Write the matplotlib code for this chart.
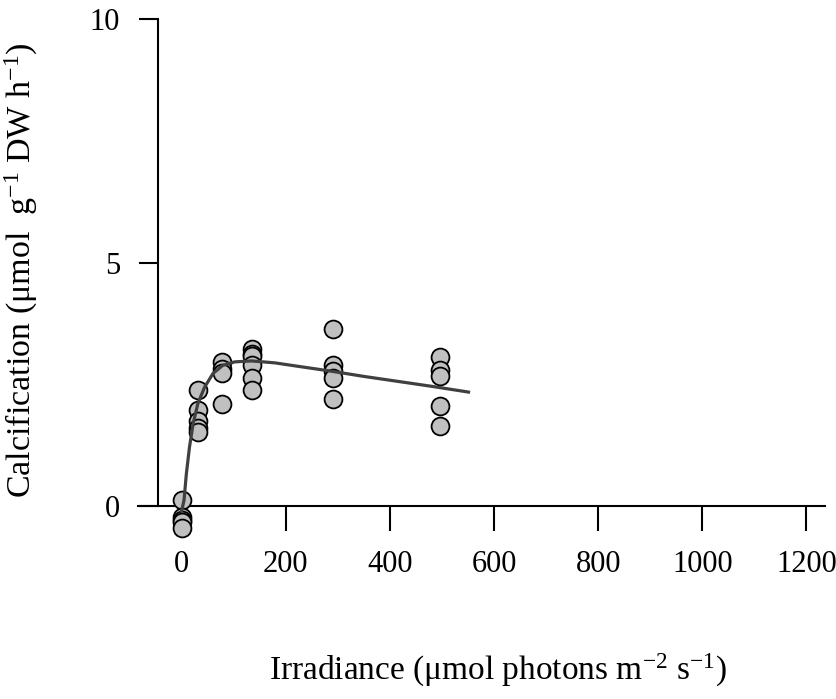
import numpy as np
import matplotlib
matplotlib.use("Agg")
import matplotlib.pyplot as plt

plt.rcParams['font.family'] = ['Liberation Serif', 'DejaVu Serif']
plt.rcParams['mathtext.fontset'] = 'custom'
plt.rcParams['mathtext.rm'] = 'Liberation Serif'
plt.rcParams['mathtext.it'] = 'Liberation Serif:italic'

# measured calcification at each irradiance level
irr = [0, 0, 0, 0, 0,
       31, 31, 31, 31, 31,
       77, 77, 77, 77,
       136, 136, 136, 136, 136, 136,
       290, 290, 290, 290, 290,
       497, 497, 497, 497, 497]
calc = [0.12, -0.22, -0.28, -0.33, -0.45,
        2.38, 1.97, 1.75, 1.60, 1.52,
        2.96, 2.82, 2.73, 2.10,
        3.23, 3.13, 3.08, 2.89, 2.62, 2.38,
        3.64, 2.89, 2.77, 2.62, 2.19,
        3.07, 2.79, 2.67, 2.05, 1.65]

# fitted P-I curve
fit_x = [0, 4.5, 9, 15, 22, 31, 44, 60, 79, 102, 134, 179, 223, 287, 351, 415, 479, 551]
fit_y = [-0.1, 0.12, 0.66, 1.21, 1.69, 2.10, 2.44, 2.72, 2.89, 2.96, 2.98, 2.94,
         2.87, 2.77, 2.66, 2.56, 2.46, 2.34]

xticks = [0, 200, 400, 600, 800, 1000, 1200]
yticks = [0, 5, 10]

fig = plt.figure(figsize=(8.36, 6.99), dpi=100)
ax = fig.add_axes([0.165, 0.2203, 0.822, 0.7525])

ax.scatter(irr, calc, s=165, facecolor='#c0c0c0', edgecolor='black',
           linewidth=1.3, zorder=3)
ax.plot(fit_x, fit_y, color='#404040', lw=2.3, zorder=4)

ax.set_xlim(-84, 1236)
ax.set_ylim(-0.8, 10.0)

for s in ['top', 'right']:
    ax.spines[s].set_visible(False)
ax.spines['left'].set_position(('data', -46))
ax.spines['left'].set_bounds(0, 10)
ax.spines['bottom'].set_position(('data', 0))
for s in ['left', 'bottom']:
    ax.spines[s].set_linewidth(1.5)

ax.set_xticks(xticks)
ax.set_yticks(yticks)
ax.tick_params(axis='x', direction='out', length=18, width=1.5, pad=14, labelsize=22)
ax.tick_params(axis='y', direction='out', length=14, width=1.5, pad=13, labelsize=22)

fig.text(0.026, 0.613, r'Calcification ($\mathregular{\mu}$mol  g$^{\mathregular{-1}}$ DW h$^{\mathregular{-1}}$)',
         rotation=90, ha='center', va='center', fontsize=24.5)
fig.text(0.596, 0.0415, r'Irradiance ($\mathregular{\mu}$mol photons m$^{\mathregular{-2}}$ s$^{\mathregular{-1}}$)',
         ha='center', va='center', fontsize=24)

fig.savefig('out.png', dpi=100)
